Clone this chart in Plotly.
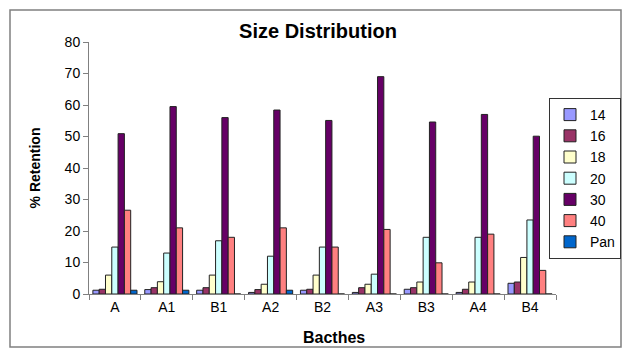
import plotly.graph_objects as go

categories = ["A", "A1", "B1", "A2", "B2", "A3", "B3", "A4", "B4"]
s14 = [1.2, 1.4, 1.2, 0.5, 1.2, 0.5, 1.5, 0.5, 3.4]
s16 = [1.5, 2.0, 2.0, 1.4, 1.5, 2.0, 2.0, 1.5, 3.8]
s18 = [6.0, 3.9, 6.0, 3.1, 6.0, 3.1, 3.8, 3.8, 11.6]
s20 = [14.9, 13.0, 16.9, 12.0, 14.9, 6.3, 18.0, 18.0, 23.5]
s30 = [50.9, 59.5, 56.0, 58.4, 55.1, 69.0, 54.6, 57.0, 50.1]
s40 = [26.6, 21.0, 18.0, 21.0, 14.9, 20.5, 9.9, 19.0, 7.5]
span = [1.2, 1.2, 0.0, 1.2, 0.0, 0.0, 0.0, 0.0, 0.0]

series = [("14", s14, "#9999FF"), ("16", s16, "#993366"), ("18", s18, "#FFFFCC"),
          ("20", s20, "#CCFFFF"), ("30", s30, "#660066"), ("40", s40, "#FF8080"),
          ("Pan", span, "#0066CC")]

fig = go.Figure()
for name, vals, col in series:
    fig.add_trace(go.Bar(x=categories, y=vals, name=name, marker_color=col,
                         marker_line=dict(color="#222222", width=1)))

L, R, T, B = 89, 69, 42, 57
W, H = 625, 351
pw, ph = W - L - R, H - T - B

def px(x):
    return (x - L) / pw

def py(y):
    return (H - B - y) / ph

fig.update_layout(
    width=W, height=H,
    margin=dict(l=L, r=R, t=T, b=B, autoexpand=False),
    paper_bgcolor="white", plot_bgcolor="white",
    barmode="group", bargap=0.15, bargroupgap=0,
    font=dict(family="Arial, Liberation Sans, sans-serif", color="#000000", size=13),
    title=dict(text="<b>Size Distribution</b>", x=318 / W, xref="container", xanchor="center",
               y=1 - 31 / H, yanchor="middle", font=dict(size=20)),
    legend=dict(x=px(621), xanchor="right", y=py(98), yanchor="top",
                bordercolor="#333333", borderwidth=1, font=dict(size=14),
                tracegroupgap=0, itemwidth=30),
    showlegend=True,
)
fig.update_xaxes(showline=True, linecolor="#808080", linewidth=1, ticks="outside",
                 tickcolor="#808080", ticklen=5, tickson="boundaries",
                 tickfont=dict(size=14), showgrid=False)
fig.update_yaxes(range=[0, 80], dtick=10, showline=True, linecolor="#808080", linewidth=1,
                 ticks="outside", tickcolor="#808080", ticklen=5, showgrid=False,
                 zeroline=False,
                 title=dict(text="<b>% Retention</b>", font=dict(size=14), standoff=20),
                 tickfont=dict(size=14))
fig.add_annotation(text="<b>Bacthes</b>", xref="paper", yref="paper",
                   x=px(334), y=py(337), xanchor="center", yanchor="middle",
                   showarrow=False, font=dict(size=16))
fig.add_shape(type="rect", xref="paper", yref="paper",
              x0=px(10), x1=px(621), y0=py(347), y1=py(10),
              line=dict(color="#808080", width=1.5), fillcolor="rgba(0,0,0,0)", layer="below")

fig.write_html("out.html", post_script="document.body.style.margin='0';",
               config={"displayModeBar": False})
